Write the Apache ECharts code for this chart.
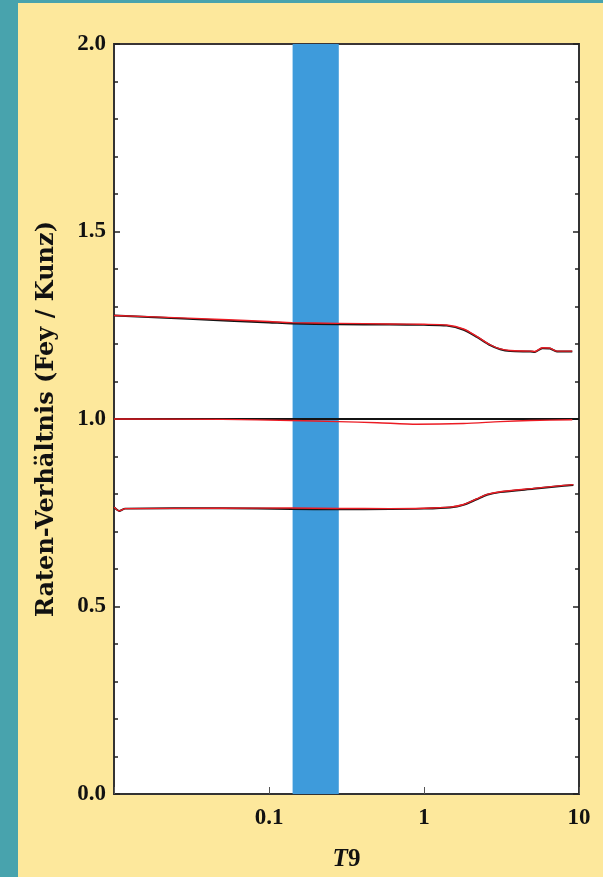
<!DOCTYPE html>
<html>
<head>
<meta charset="utf-8">
<script src="https://cdn.jsdelivr.net/npm/echarts/dist/echarts.min.js"></script>
<style>
  html, body { margin: 0; padding: 0; background: #fde89c; }
  #chart { width: 603px; height: 877px; }
</style>
</head>
<body>
<div id="chart"></div>
<script>
// Rate ratio Fey / Kunz as a function of T9 for three reaction rates.
// Each curve: T9 sample points, red computation, black computation.
const upperT     = [0.01, 0.03, 0.1, 0.14, 0.28, 0.6, 1.0, 1.4, 1.8, 2.19, 2.67, 3.1, 3.6, 4.85, 5.2, 5.8, 6.5, 7.2, 9.05];
const upperRed   = [1.276, 1.269, 1.260, 1.257, 1.255, 1.2535, 1.2525, 1.2505, 1.240, 1.2205, 1.198, 1.187, 1.1825, 1.181, 1.180, 1.190, 1.189, 1.181, 1.181];
const upperBlack = [1.276, 1.267, 1.2575, 1.2545, 1.2525, 1.252, 1.251, 1.249, 1.238, 1.219, 1.197, 1.186, 1.181, 1.180, 1.179, 1.189, 1.188, 1.180, 1.180];

const middleT     = [0.01, 0.05, 0.14, 0.28, 0.5, 0.9, 1.8, 3.1, 4.85, 9.05];
const middleRed   = [1.000, 0.999, 0.996, 0.993, 0.990, 0.986, 0.988, 0.993, 0.996, 0.998];
const middleBlackT = [0.01, 1.0, 10];
const middleBlack  = [1.000, 1.000, 1.000];

const lowerT     = [0.01, 0.0108, 0.0118, 0.05, 0.14, 0.28, 0.6, 1.0, 1.47, 1.8, 2.19, 2.55, 3.1, 5.1, 7.97, 9.2];
const lowerRed   = [0.765, 0.755, 0.761, 0.762, 0.7625, 0.7615, 0.761, 0.762, 0.765, 0.772, 0.787, 0.799, 0.806, 0.815, 0.823, 0.825];
const lowerBlack = [0.765, 0.755, 0.761, 0.762, 0.760, 0.7595, 0.760, 0.761, 0.764, 0.771, 0.786, 0.798, 0.805, 0.814, 0.822, 0.824];

// Shaded temperature window (T9)
const bandRange = [0.142, 0.282];

// Axis ranges and tick labels
const xRange = [0.01, 10];
const xTickLabels = ['0.1', '1', '10'];
const yRange = [0, 2];
const yStep = 0.5;

const pairs = (xs, ys) => xs.map((x, i) => [x, ys[i]]);

const SERIF = '"Liberation Serif", "DejaVu Serif", serif';
const WIDE_SERIF = '"DejaVu Serif", "Liberation Serif", serif';

function curve(name, xs, ys, color, width, z) {
  return {
    name, type: 'line', data: pairs(xs, ys), showSymbol: false, smooth: 0.25,
    lineStyle: { color, width }, z, silent: true
  };
}

const chart = echarts.init(document.getElementById('chart'), null, { renderer: 'canvas' });

chart.setOption({
  backgroundColor: '#fde89c',
  animation: false,
  graphic: [
    { type: 'rect', left: 0, top: 0, shape: { width: 18, height: 877 }, style: { fill: '#48a3ad' }, z: 100 },
    { type: 'rect', left: 0, top: 0, shape: { width: 603, height: 3 }, style: { fill: '#48a3ad' }, z: 100 }
  ],
  grid: {
    left: 114, right: 24, top: 44, bottom: 82,
    show: true, backgroundColor: '#ffffff', borderColor: '#3a3535', borderWidth: 2
  },
  xAxis: {
    type: 'log', logBase: 10, min: xRange[0], max: xRange[1],
    name: '{i|T}{n|9}', nameLocation: 'middle', nameGap: 53,
    nameTextStyle: {
      rich: {
        i: { fontFamily: SERIF, fontWeight: 'bold', fontStyle: 'italic', fontSize: 25, color: '#111' },
        n: { fontFamily: SERIF, fontWeight: 'bold', fontSize: 25, color: '#111' }
      }
    },
    axisLine: { show: true, lineStyle: { color: '#333', width: 2 } },
    axisTick: { show: true, inside: true, length: 7, lineStyle: { color: '#555', width: 1 } },
    minorTick: { show: false },
    splitLine: { show: false },
    axisLabel: {
      margin: 13, fontFamily: SERIF, fontWeight: 'bold', fontSize: 23, color: '#111',
      formatter: v => {
        const s = String(+v.toPrecision(3));
        return xTickLabels.includes(s) ? s : '';
      }
    }
  },
  yAxis: [
    {
      type: 'value', min: yRange[0], max: yRange[1], interval: yStep, position: 'left',
      name: 'Raten-Verhältnis (Fey / Kunz)', nameLocation: 'middle', nameGap: 55, nameRotate: 90,
      nameTextStyle: { fontFamily: WIDE_SERIF, fontWeight: 'bold', fontSize: 24, color: '#111' },
      axisLine: { show: true, lineStyle: { color: '#333', width: 1.5 } },
      axisTick: { show: true, inside: true, length: 6, lineStyle: { color: '#222', width: 1.5 } },
      minorTick: { show: true, splitNumber: 5, length: 4, lineStyle: { color: '#222', width: 1.5 } },
      splitLine: { show: false },
      axisLabel: {
        margin: 8, fontFamily: SERIF, fontWeight: 'bold', fontSize: 23, color: '#111',
        formatter: v => v.toFixed(1)
      }
    },
    {
      type: 'value', min: yRange[0], max: yRange[1], interval: yStep, position: 'right',
      axisLine: { show: true, lineStyle: { color: '#333', width: 2 } },
      axisTick: { show: true, inside: true, length: 6, lineStyle: { color: '#222', width: 1.5 } },
      minorTick: { show: true, splitNumber: 5, length: 4, lineStyle: { color: '#222', width: 1.5 } },
      splitLine: { show: false },
      axisLabel: { show: false }
    }
  ],
  series: [
    {
      name: 'band', type: 'line', data: [], silent: true,
      markArea: {
        silent: true,
        itemStyle: { color: '#3e9bdb', opacity: 1 },
        data: [[{ xAxis: bandRange[0] }, { xAxis: bandRange[1] }]]
      }
    },
    curve('upper black', upperT, upperBlack, '#141414', 2, 3),
    curve('middle black', middleBlackT, middleBlack, '#141414', 2, 3),
    curve('lower black', lowerT, lowerBlack, '#141414', 2, 3),
    curve('upper red', upperT, upperRed, '#ec1c24', 1.4, 4),
    curve('middle red', middleT, middleRed, '#ec1c24', 1.4, 4),
    curve('lower red', lowerT, lowerRed, '#ec1c24', 1.4, 4)
  ]
});
</script>
</body>
</html>
